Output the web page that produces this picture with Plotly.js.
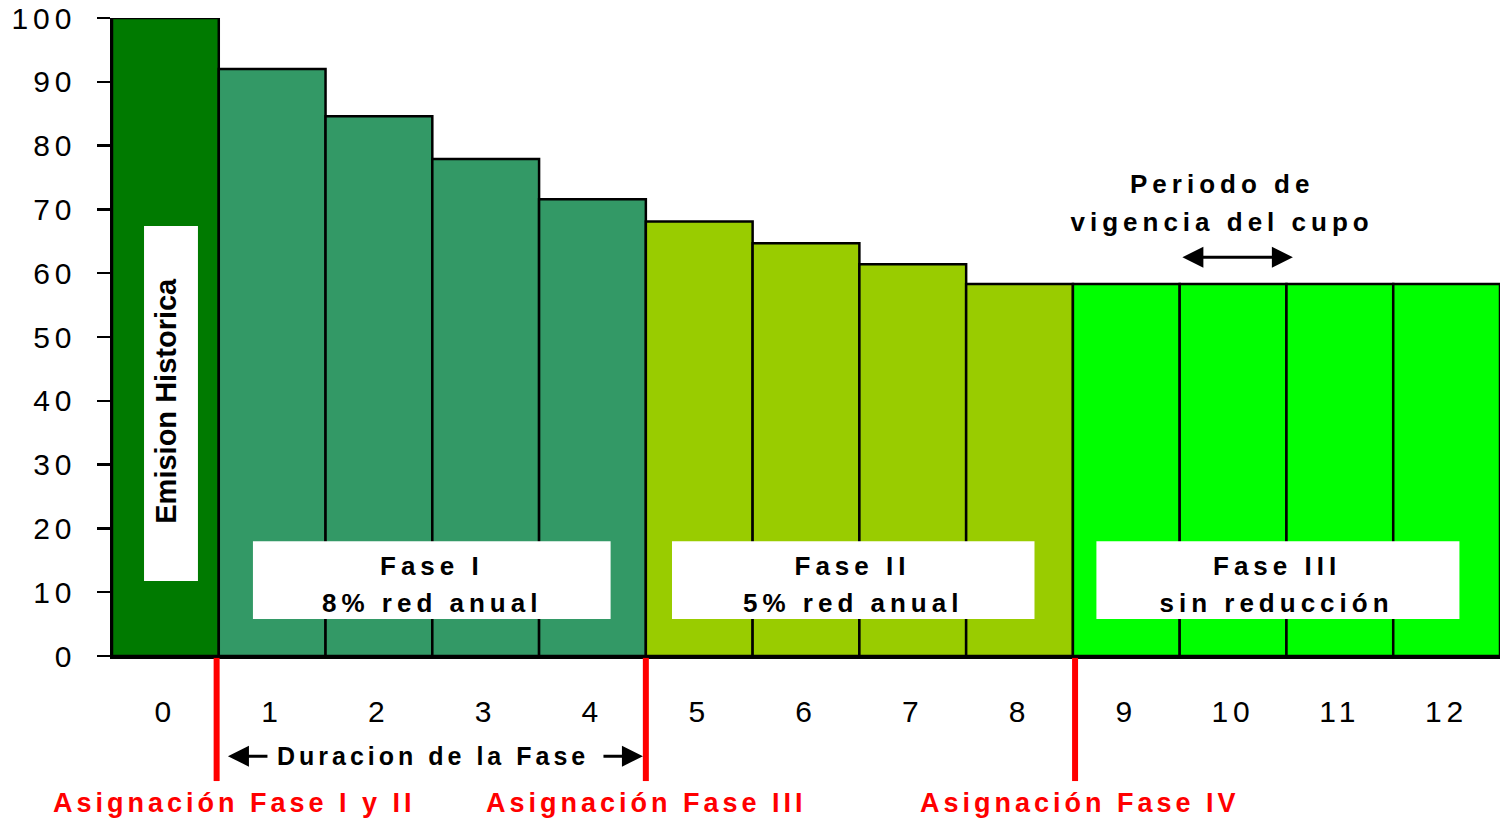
<!DOCTYPE html>
<html>
<head>
<meta charset="utf-8">
<script src="https://cdn.plot.ly/plotly-3.0.1.min.js"></script>
<style>
html,body{margin:0;padding:0;background:#fff;}
#chart{width:1500px;height:818px;}
.xtick text,.ytick text{letter-spacing:5px;}
g.annotation text{letter-spacing:4px;}
g.annotation[data-index="0"] text{letter-spacing:0px;}
g.annotation[data-index="1"] text, g.annotation[data-index="2"] text,
g.annotation[data-index="3"] text, g.annotation[data-index="4"] text,
g.annotation[data-index="5"] text, g.annotation[data-index="6"] text,
g.annotation[data-index="7"] text, g.annotation[data-index="8"] text{letter-spacing:5px;}
</style>
</head>
<body>
<div id="chart"></div>
<script>
// ---- data ----
const years = [0,1,2,3,4,5,6,7,8,9,10,11,12];
const emissions = [100, 92, 84.6, 77.9, 71.6, 68.1, 64.7, 61.4, 58.3, 58.3, 58.3, 58.3, 58.3];
const phases = ['Historica','I','I','I','I','II','II','II','II','III','III','III','III'];
const tickLabels = ['0','1','2','3','4','5','6','7','8','9','10','11','12'];
const yTicks = [0,10,20,30,40,50,60,70,80,90,100];

const phaseColors = {Historica:'#007A00', I:'#339966', II:'#99CC00', III:'#00FF00'};
const colors = phases.map(p => phaseColors[p]);

const FONT = 'Liberation Sans, Arial, sans-serif';

const trace = {
  type:'bar', x: years, y: emissions, width: 1,
  marker:{color: colors, line:{color:'#000', width:2.5}},
  hoverinfo:'skip'
};

function box(x0,x1,y0,y1){
  return {type:'rect', xref:'x', yref:'y', x0:x0, x1:x1, y0:y0, y1:y1,
          fillcolor:'#fff', line:{width:0}, layer:'above'};
}
function redLine(x){
  return {type:'line', xref:'x', yref:'paper', x0:x, x1:x, y0:-0.003, y1:-0.196,
          line:{color:'#FF0000', width:6}, layer:'above'};
}

const shapes = [
  box(-0.2, 0.305, 11.75, 67.4),
  box(0.82, 4.17, 5.8, 18.0),
  box(4.745, 8.14, 5.8, 18.0),
  box(8.72, 12.12, 5.8, 18.0),
  redLine(0.48), redLine(4.5), redLine(8.52)
];

function txt(text, x, y, size, opts){
  return Object.assign({text:text, x:x, y:y, xref:'x', yref:'y', showarrow:false,
    xanchor:'center', yanchor:'middle',
    font:{family:FONT, size:size, color:'#000', weight:'bold'}}, opts||{});
}
function arrow(x, y, ax, both){
  const a = {text:'', x:x, y:y, xref:'x', yref: both ? 'y' : 'paper', ax:ax, ay:0,
    axref:'pixel', ayref:'pixel', showarrow:true, arrowhead:2, arrowsize:1.4, arrowwidth:3,
    arrowcolor:'#000', font:{size:1}, borderpad:0, standoff:0, startstandoff:0};
  if (both){ a.arrowside='end+start'; a.startarrowhead=2; a.startarrowsize=1.4; }
  return a;
}

const annotations = [
  txt('Emision Historica', 0.005, 40, 29, {textangle:-90}),
  txt('Fase I', 2.5, 14.1, 26),
  txt('8% red anual', 2.5, 8.3, 26),
  txt('Fase II', 6.44, 14.1, 26),
  txt('5% red anual', 6.44, 8.3, 26),
  txt('Fase III', 10.41, 14.1, 26),
  txt('sin reducción', 10.41, 8.3, 26),
  txt('Periodo de', 9.9, 74, 26),
  txt('vigencia del cupo', 9.9, 68, 26),
  txt('Duracion de la Fase', 2.51, -0.157, 25, {yref:'paper'}),
  txt('Asignación Fase I y II', 0.647, -0.230, 27, {yref:'paper', font:{family:FONT, size:27, color:'#FF0000', weight:'bold'}}),
  txt('Asignación Fase III', 4.506, -0.230, 27, {yref:'paper', font:{family:FONT, size:27, color:'#FF0000', weight:'bold'}}),
  txt('Asignación Fase IV', 8.566, -0.230, 27, {yref:'paper', font:{family:FONT, size:27, color:'#FF0000', weight:'bold'}}),
  arrow(0.586, -0.157, 40, false),
  arrow(4.473, -0.157, -40, false),
  arrow(10.56, 62.5, -111, true)
];

const layout = {
  width:1500, height:818,
  margin:{l:112, r:0, t:18, b:162, pad:0},
  paper_bgcolor:'#fff', plot_bgcolor:'#fff',
  showlegend:false, bargap:0,
  font:{family:FONT, size:30, color:'#000'},
  xaxis:{range:[-0.5,12.5], tickmode:'array', tickvals:years, ticktext:tickLabels,
         showgrid:false, zeroline:false, showline:true, linecolor:'#000', linewidth:2.5,
         ticks:'', ticklabelstandoff:27, tickfont:{family:FONT, size:30, color:'#000'}, fixedrange:true},
  yaxis:{range:[0,100], tickmode:'array', tickvals:yTicks, showgrid:false, zeroline:false,
         showline:true, linecolor:'#000', linewidth:2.5, ticks:'outside', ticklen:13, tickwidth:2.5,
         tickcolor:'#000', ticklabelstandoff:14, tickfont:{family:FONT, size:30, color:'#000'}, fixedrange:true},
  shapes:shapes,
  annotations:annotations
};

Plotly.newPlot('chart', [trace], layout, {displayModeBar:false, staticPlot:true});
</script>
</body>
</html>
